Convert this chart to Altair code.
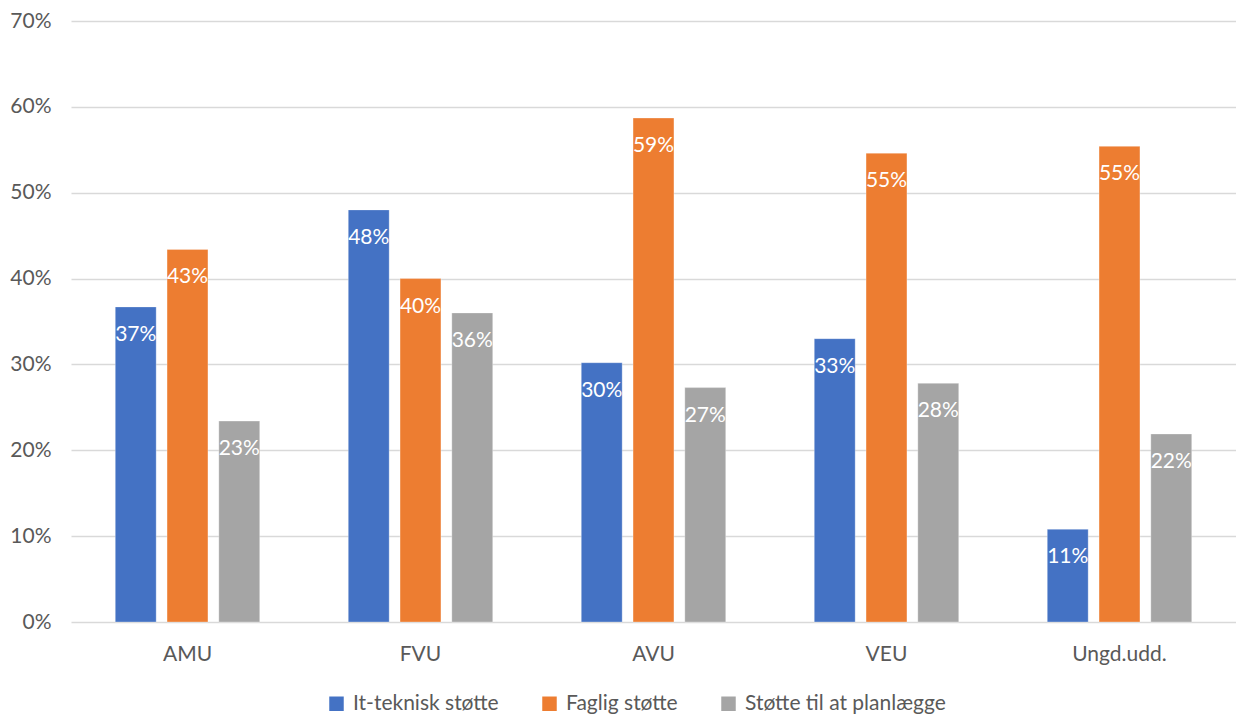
import altair as alt
import pandas as pd

categories = ["AMU", "FVU", "AVU", "VEU", "Ungd.udd."]
series = ["It-teknisk støtte", "Faglig støtte", "Støtte til at planlægge"]
it_teknisk = [0.367, 0.480, 0.302, 0.330, 0.108]
faglig = [0.434, 0.400, 0.587, 0.546, 0.554]
planlaegge = [0.234, 0.360, 0.273, 0.278, 0.219]
colors = ["#4472C4", "#ED7D31", "#A5A5A5"]

rows = []
for i, c in enumerate(categories):
    for s, vals in zip(series, [it_teknisk, faglig, planlaegge]):
        rows.append({"cat": c, "series": s, "value": vals[i]})
df = pd.DataFrame(rows)

FONT = "Lato"
GRAY = "#595959"
FS = 21

x = alt.X("cat:N", sort=categories, title=None,
          scale=alt.Scale(paddingInner=0.38, paddingOuter=0.19),
          axis=alt.Axis(labelAngle=0, labelFontSize=FS, labelColor=GRAY, labelFont=FONT,
                        ticks=False, domain=False, labelPadding=21))
y = alt.Y("value:Q", title=None,
          scale=alt.Scale(domain=[0, 0.7], nice=False),
          axis=alt.Axis(format=".0%", values=[0, 0.1, 0.2, 0.3, 0.4, 0.5, 0.6, 0.7],
                        labelFontSize=FS, labelColor=GRAY, labelFont=FONT,
                        ticks=False, domain=False, labelPadding=20,
                        gridColor="#D9D9D9", gridWidth=1.5))
xo = alt.XOffset("series:N", sort=series, scale=alt.Scale(paddingInner=0.21))
color = alt.Color("series:N", sort=series,
                  scale=alt.Scale(domain=series, range=colors),
                  legend=alt.Legend(title=None, orient="none", direction="horizontal",
                                    legendX=255, legendY=672, labelLimit=400,
                                    labelFontSize=FS, labelColor=GRAY, labelFont=FONT,
                                    symbolType="square", symbolSize=210, symbolStrokeWidth=0,
                                    columnPadding=40, labelOffset=6))

bars = alt.Chart(df).mark_bar(stroke="white", strokeWidth=0.6, strokeOpacity=0.5).encode(
    x=x, y=y, xOffset=xo, color=color)

labels = alt.Chart(df).mark_text(color="white", fontSize=FS, font=FONT,
                                 baseline="middle", dy=28).encode(
    x=alt.X("cat:N", sort=categories), y="value:Q", xOffset=xo,
    text=alt.Text("value:Q", format=".0%"))

chart = alt.layer(bars, labels).properties(
    width=1165, height=601,
    autosize=alt.AutoSizeParams(type="none"),
    padding={"left": 63, "top": 13, "right": 0, "bottom": 94},
).configure_view(stroke=None)

chart.save("out.html", embed_options={"renderer": "svg", "actions": False})
